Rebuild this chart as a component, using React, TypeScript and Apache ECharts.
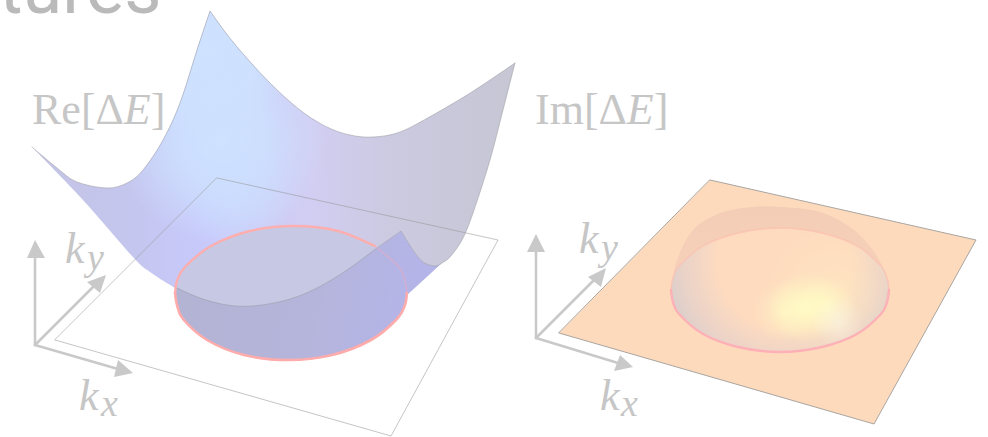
import React, { useEffect, useRef } from "react";
import * as echarts from "echarts";

type Pt = number[];

// Outlines, in the units of the hidden axes
const backTop: Pt[] = [[32, 147], [57, 168], [77, 182], [107, 188], [127, 183], [143, 170], [163, 140], [180, 103], [197, 50], [210, 11]];
const backRidge: Pt[] = [[210, 11], [233, 42], [267, 80], [300, 110], [327, 127], [350, 135], [373, 137], [400, 132], [433, 115], [467, 95], [490, 80], [515, 63]];
const backRight: Pt[] = [[515, 63], [503, 110], [490, 160], [473, 213], [462, 240], [450, 257], [442, 263]];
const notch: Pt[] = [[442, 263], [435, 266], [423, 262], [413, 250], [401, 231]];
const frontEdge: Pt[] = [[401, 231], [377, 248], [347, 270], [317, 288], [287, 300], [253, 306], [227, 305], [200, 298], [175, 287]];
const backLeft: Pt[] = [[175, 288], [150, 272], [133, 257], [83, 200], [32, 147]];
const lobeRight: Pt[] = [[442, 263], [406, 296]];
const ringUpperLeft: Pt[] = [[175, 293], [177, 281], [185, 267], [211, 246], [250, 231], [294, 226], [338, 231], [375, 246]];
const ringUpperRight: Pt[] = [[375, 246], [399, 267], [405, 281], [407, 293]];
const ringLower: Pt[] = [[407, 293], [405, 305], [397, 319], [371, 340], [332, 355], [288, 360], [244, 355], [207, 340], [183, 319], [177, 305], [175, 293]];

const planeLeft: Pt[] = [[217, 178], [498, 240], [391, 436], [55, 340]];
const planeRight: Pt[] = [[710, 180], [976, 240], [874, 424], [559, 333]];

const domeBack: Pt[] = [[671, 290], [677, 260], [693, 230], [720, 213], [753, 207], [783, 207], [820, 212], [850, 227], [873, 250], [887, 277], [889, 290]];
const domeRimBack: Pt[] = [[671, 290], [673, 278], [679, 266], [703, 246], [738, 233], [780, 228], [822, 233], [857, 246], [881, 266], [887, 278], [889, 290]];
const domeRimFront: Pt[] = [[889, 290], [887, 302], [881, 314], [857, 334], [822, 347], [780, 352], [738, 347], [703, 334], [679, 314], [673, 302], [671, 290]];

const arrowsLeft: Pt[][] = [[[35, 345], [35, 256]], [[35, 345], [95, 285]], [[35, 345], [118, 369]]];
const headsLeft: Pt[][] = [[[35, 240], [27, 258], [45, 258]], [[106, 275], [87, 282], [100, 293]], [[133, 373], [118, 360], [114, 377]]];
const arrowsRight: Pt[][] = [[[536, 338], [536, 250]], [[536, 338], [595, 279]], [[536, 338], [618, 363]]];
const headsRight: Pt[][] = [[[536, 234], [527, 252], [545, 252]], [[606, 268], [588, 277], [601, 287]], [[633, 367], [620, 355], [614, 371]]];

const GREY = "#c9c9c9";
const EDGE = "rgba(150,150,155,0.5)";

const fullEllipse = [domeRimBack, domeRimFront];
const backOutline = [backTop, backRidge, backRight, notch, frontEdge, backLeft];
const lobe = [frontEdge, ringLower.slice().reverse(), lobeRight.slice().reverse(), notch];

function linear(x1: number, y1: number, x2: number, y2: number, stops: [number, string][]) {
  return new echarts.graphic.LinearGradient(x1, y1, x2, y2, stops.map(([offset, color]) => ({ offset, color })), true);
}
function radial(x: number, y: number, r: number, stops: [number, string][]) {
  return new echarts.graphic.RadialGradient(x, y, r, stops.map(([offset, color]) => ({ offset, color })), true);
}

type Layer = { segs: Pt[][]; fill?: any; stroke?: string; width?: number; closed?: boolean; straight?: boolean };
const layers: Layer[] = [
  // left surface
  { segs: backOutline, closed: true, fill: linear(30, 0, 515, 0, [[0, "#c4c4e4"], [0.2, "#c5c6ee"], [0.36, "#c7c9fb"], [0.58, "#d2cdf2"], [0.75, "#cbcae0"], [1, "#c6c6d4"]]) },
  { segs: backOutline, closed: true, fill: radial(222, 140, 105, [[0, "rgba(206,227,255,1)"], [0.45, "rgba(206,227,255,0.75)"], [1, "rgba(206,227,255,0)"]]) },
  { segs: backOutline, closed: true, fill: radial(205, 50, 90, [[0, "rgba(206,227,255,1)"], [0.6, "rgba(206,227,255,0.8)"], [1, "rgba(206,227,255,0)"]]) },
  { segs: backOutline, closed: true, fill: radial(238, 195, 55, [[0, "rgba(203,222,255,0.7)"], [1, "rgba(203,222,255,0)"]]) },
  { segs: [ringUpperLeft, ringUpperRight, ringLower], closed: true, fill: "#c6c8e4" },
  { segs: lobe, closed: true, fill: linear(180, 300, 400, 350, [[0, "#b3b3d4"], [0.6, "#b5b5dc"], [1, "#b4b4e8"]]) },
  { segs: [backTop, backRidge], stroke: EDGE, width: 1 },
  { segs: [backRight, notch, frontEdge], stroke: EDGE, width: 1 },
  { segs: [ringUpperLeft], stroke: "#fdaeae", width: 2.4 },
  { segs: [ringUpperRight], stroke: "rgba(240,170,190,0.5)", width: 1.5 },
  { segs: [ringLower], stroke: "#fdabab", width: 2.6 },
  { segs: [planeLeft], closed: true, straight: true, stroke: "rgba(150,150,150,0.7)", width: 0.8 },
  // right plane and dome
  { segs: [planeRight], closed: true, straight: true, fill: "#fedabd", stroke: "#a9a5a0", width: 1 },
  { segs: [domeBack, domeRimBack.slice().reverse()], closed: true, fill: linear(780, 207, 780, 250, [[0, "#f3cdb5"], [1, "#f5cfb8"]]) },
  { segs: fullEllipse, closed: true, fill: "#fedbbf" },
  { segs: fullEllipse, closed: true, fill: radial(785, 262, 122, [[0, "rgba(220,205,210,0)"], [0.55, "rgba(220,205,210,0)"], [0.8, "rgba(222,205,205,0.55)"], [1, "rgba(214,205,205,0.95)"]]) },
  { segs: fullEllipse, closed: true, fill: radial(835, 295, 70, [[0, "rgba(255,240,195,0.5)"], [1, "rgba(255,235,190,0)"]]) },
  { segs: fullEllipse, closed: true, fill: radial(785, 311, 32, [[0, "rgba(255,255,198,0.6)"], [1, "rgba(255,250,195,0)"]]) },
  { segs: fullEllipse, closed: true, fill: radial(805, 307, 36, [[0, "rgba(255,255,198,0.85)"], [1, "rgba(255,250,195,0)"]]) },
  { segs: fullEllipse, closed: true, fill: radial(826, 306, 30, [[0, "rgba(255,255,198,0.7)"], [1, "rgba(255,250,195,0)"]]) },
  { segs: fullEllipse, closed: true, fill: radial(838, 322, 26, [[0, "rgba(250,245,230,0.6)"], [1, "rgba(250,245,230,0)"]]) },
  { segs: [domeRimBack], stroke: "rgba(252,190,175,0.7)", width: 1.4 },
  { segs: [domeRimFront], stroke: "#fdb0b6", width: 2.4 },
  // axis arrows
  ...arrowsLeft.map((a) => ({ segs: [a], stroke: GREY, width: 2.6 })),
  ...headsLeft.map((h) => ({ segs: [h], closed: true, straight: true, fill: GREY })),
  ...arrowsRight.map((a) => ({ segs: [a], stroke: GREY, width: 2.6 })),
  ...headsRight.map((h) => ({ segs: [h], closed: true, straight: true, fill: GREY })),
];

function spline(pts: Pt[], straight?: boolean): string {
  if (straight || pts.length < 3) return pts.map((p) => `L${p[0]} ${p[1]}`).join("");
  let d = "";
  for (let i = 0; i < pts.length - 1; i++) {
    const p0 = pts[Math.max(i - 1, 0)], p1 = pts[i], p2 = pts[i + 1], p3 = pts[Math.min(i + 2, pts.length - 1)];
    d += `C${p1[0] + (p2[0] - p0[0]) / 6} ${p1[1] + (p2[1] - p0[1]) / 6} ${p2[0] - (p3[0] - p1[0]) / 6} ${p2[1] - (p3[1] - p1[1]) / 6} ${p2[0]} ${p2[1]}`;
  }
  return d;
}

const SERIF = '"Liberation Serif", serif';
const symbols: [string, number, number, number][] = [
  ["k", 65, 270, 44], ["y", 87, 276, 38],
  ["k", 79, 417, 44], ["x", 101, 422, 38],
  ["k", 579, 260, 44], ["y", 601, 266, 38],
  ["k", 600, 417, 44], ["x", 621, 422, 38],
];

function mathLabel(text: string, x: number, y: number) {
  return {
    type: "text", silent: true,
    style: {
      x, y, text, verticalAlign: "bottom", fill: "#c4c4c4",
      rich: {
        a: { fontFamily: SERIF, fontSize: 44, fill: "#c6c6c6", lineHeight: 46 },
        b: { fontFamily: SERIF, fontSize: 44, fontStyle: "italic", fill: "#c6c6c6", lineHeight: 46 },
      },
    },
  };
}

export default function App() {
  const ref = useRef<HTMLDivElement>(null);
  useEffect(() => {
    const chart = echarts.init(ref.current!, null, { renderer: "svg" });
    chart.setOption({
      animation: false,
      backgroundColor: "#ffffff",
      grid: { left: 0, right: 0, top: 0, bottom: 0 },
      xAxis: { type: "value", min: 0, max: 988, show: false },
      yAxis: { type: "value", min: 0, max: 437, inverse: true, show: false },
      graphic: {
        elements: [
          { type: "text", silent: true, style: { x: -1, y: 24, text: "tures", verticalAlign: "bottom", fill: "#bababa", font: '400 72px Roboto, sans-serif' } },
          mathLabel("{a|Re[Δ}{b|E}{a|]}", 32, 132),
          mathLabel("{a|Im[Δ}{b|E}{a|]}", 535, 132),
          ...symbols.map(([text, x, y, size]) => ({
            type: "text", silent: true,
            style: { x, y, text, verticalAlign: "bottom", fill: "#c6c6c6", font: `italic ${size}px ${SERIF}` },
          })),
        ],
      },
      series: [
        {
          type: "custom",
          coordinateSystem: "cartesian2d",
          clip: false,
          silent: true,
          data: layers.map((_, i) => [i, i]),
          renderItem: (params: any, api: any) => {
            const layer = layers[params.dataIndex];
            let d = "";
            layer.segs.forEach((seg, si) => {
              const pts = seg.map((p) => api.coord(p));
              d += (si === 0 ? `M${pts[0][0]} ${pts[0][1]}` : `L${pts[0][0]} ${pts[0][1]}`) + spline(pts, layer.straight);
            });
            if (layer.closed) d += "Z";
            return {
              type: "path",
              shape: { pathData: d },
              style: {
                fill: layer.fill ?? "none",
                stroke: layer.stroke ?? "none",
                lineWidth: layer.width ?? 0,
                lineCap: "round",
                lineJoin: "round",
              },
            };
          },
        },
      ],
    });
    return () => chart.dispose();
  }, []);
  return <div ref={ref} style={{ position: "fixed", left: 0, top: 0, width: 988, height: 437 }} />;
}
